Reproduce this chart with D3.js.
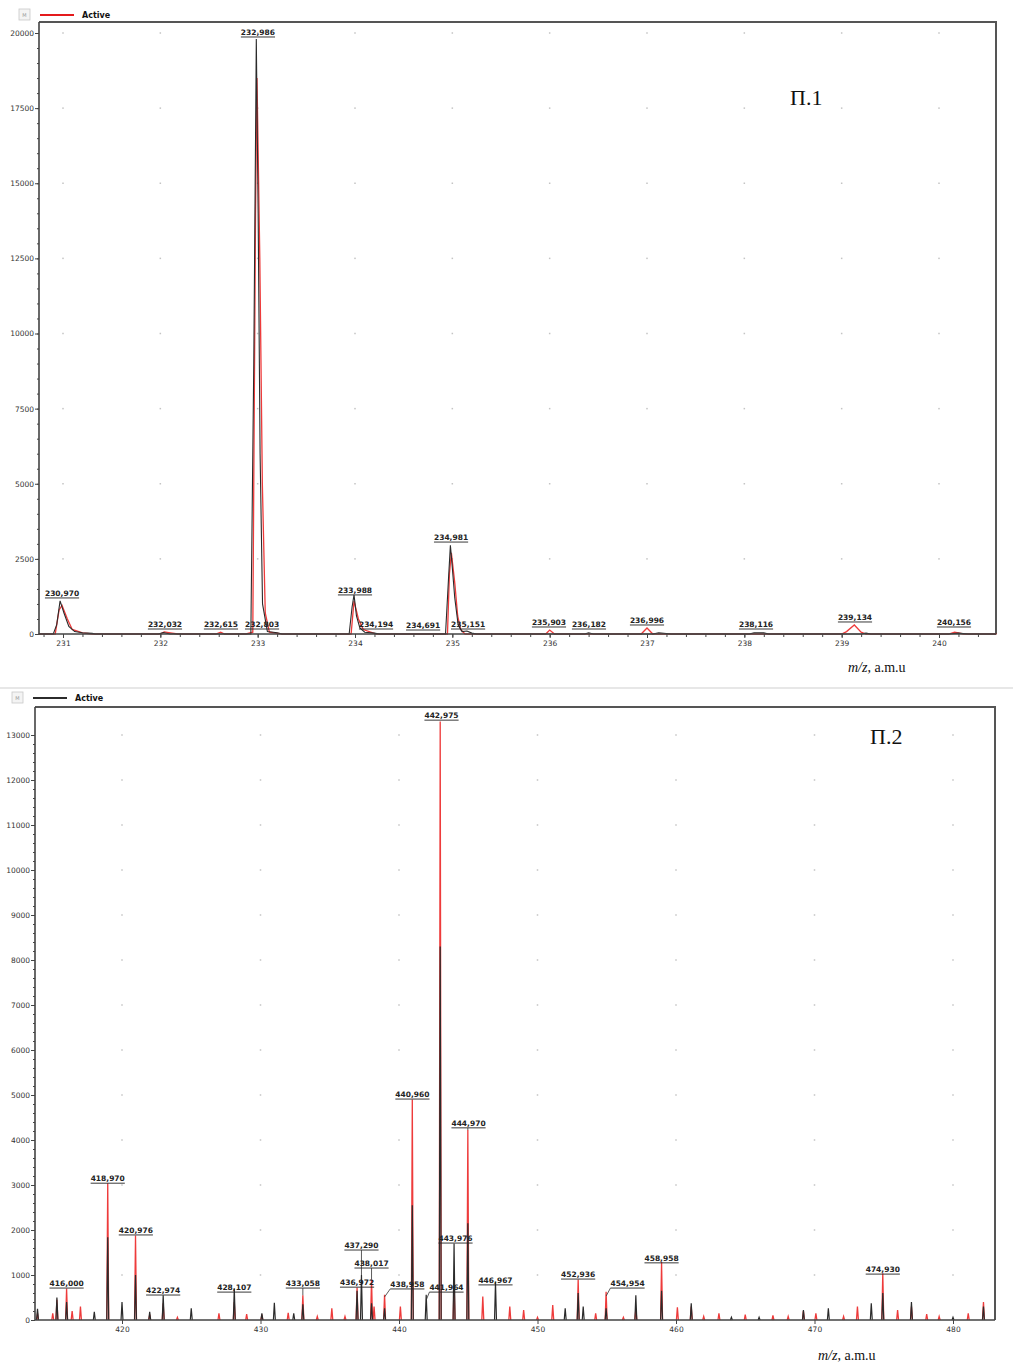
<!DOCTYPE html>
<html>
<head>
<meta charset="utf-8">
<script src="https://cdn.jsdelivr.net/npm/d3@7"></script>
<style>
  body { margin: 0; background: #fff; }
  svg { display: block; }
</style>
</head>
<body>
<div id="chart"></div>
<script>
// ---------- data: panel 1 (profile spectrum, m/z 231-240) ----------
const topXTicks = [231, 232, 233, 234, 235, 236, 237, 238, 239, 240];
const topYTicks = [0, 2500, 5000, 7500, 10000, 12500, 15000, 17500, 20000];

// [m/z, intensity] profile points of the black trace
const topBlack = [
  [230.75, 0], [230.90, 0], [230.935, 300], [230.97, 1100], [231.01, 700], [231.06, 250], [231.12, 80], [231.2, 40], [231.3, 20], [231.33, 0],
  [231.98, 0], [232.03, 50], [232.1, 0],
  [232.93, 0], [232.96, 9000], [232.986, 19800], [233.005, 14000], [233.025, 6000], [233.05, 1000], [233.1, 80], [233.2, 40], [233.25, 0],
  [233.94, 0], [233.97, 900], [233.99, 1300], [234.015, 600], [234.05, 200], [234.1, 60], [234.2, 30], [234.25, 0],
  [234.93, 0], [234.96, 1800], [234.98, 2950], [234.995, 2400], [235.025, 1200], [235.06, 300], [235.1, 80], [235.15, 100], [235.2, 30], [235.25, 0],
  [236.36, 0], [236.4, 40], [236.45, 0],
  [237.06, 0], [237.12, 40], [237.25, 0],
  [238.05, 0], [238.1, 40], [238.2, 40], [238.25, 0],
  [239.2, 0], [239.25, 30], [239.3, 0],
  [240.1, 0], [240.2, 30], [240.3, 0], [240.59, 0]
];
// [m/z, intensity] profile points of the red trace
const topRed = [
  [230.75, 0], [230.92, 0], [230.96, 800], [230.99, 950], [231.045, 500], [231.095, 150], [231.2, 40], [231.3, 0],
  [232.0, 0], [232.04, 70], [232.12, 30], [232.18, 0],
  [232.57, 0], [232.62, 60], [232.66, 0],
  [232.88, 0], [232.95, 60], [232.978, 14000], [232.993, 18500], [233.022, 12500], [233.048, 5000], [233.078, 700], [233.12, 60], [233.25, 0],
  [233.96, 0], [233.99, 1100], [234.035, 500], [234.085, 150], [234.22, 0],
  [234.95, 0], [234.97, 2000], [234.99, 2700], [235.025, 1700], [235.055, 600], [235.085, 150], [235.13, 0],
  [235.96, 0], [236.0, 130], [236.05, 0],
  [236.94, 0], [237.0, 200], [237.06, 0],
  [239.0, 0], [239.05, 80], [239.13, 300], [239.2, 60], [239.25, 0],
  [240.1, 0], [240.16, 60], [240.25, 0], [240.59, 0]
];
// peak annotations: text, label centre m/z, label level
const topLabText = ["230,970", "232,032", "232,615", "232,986", "232,803", "233,988", "234,194", "234,691",
  "234,981", "235,151", "235,903", "236,182", "236,996", "238,116", "239,134", "240,156"];
const topLabMz = [230.99, 232.048, 232.623, 233.003, 233.045, 234.0, 234.216, 234.70,
  234.987, 235.162, 235.993, 236.404, 237.0, 238.12, 239.137, 240.154];
const topLabLevel = [1200, 166, 166, 19867, 166, 1300, 166, 133, 3060, 166, 233, 166, 300, 166, 400, 233];

// ---------- data: panel 2 (centroid spectrum, m/z 414-483) ----------
const botXTicks = [420, 430, 440, 450, 460, 470, 480];
const botYTicks = [0, 1000, 2000, 3000, 4000, 5000, 6000, 7000, 8000, 9000, 10000, 11000, 12000, 13000];

const botRed = [
  [413.9, 150], [415.0, 150], [415.3, 450], [416.0, 700], [416.4, 200], [417.0, 300], [418.97, 3040], [420.976, 1880],
  [422.0, 120], [422.974, 370], [424.0, 60], [427.0, 150], [428.107, 400], [429.0, 130], [430.1, 120], [432.0, 160],
  [433.058, 550], [434.1, 80], [435.15, 260], [436.1, 80], [436.972, 720], [438.017, 900], [438.2, 300], [438.958, 560],
  [440.1, 300], [440.96, 4900], [442.975, 13300], [443.976, 800], [444.97, 4220], [446.05, 520], [448.0, 300], [449.0, 220],
  [450.0, 60], [451.1, 330], [452.936, 900], [454.2, 150], [454.954, 630], [456.2, 60], [457.1, 250], [458.958, 1290],
  [460.1, 280], [461.1, 300], [462.0, 80], [463.1, 150], [465.0, 120], [467.0, 100], [468.1, 80], [469.2, 200],
  [470.1, 150], [472.1, 80], [473.1, 300], [474.93, 1040], [476.0, 220], [477.0, 300], [478.1, 130], [479.0, 80],
  [481.1, 150], [482.2, 400]
];
const botBlack = [
  [413.9, 250], [415.3, 500], [416.0, 400], [418.0, 180], [418.97, 1840], [420.0, 400], [420.976, 1000], [422.0, 180],
  [422.974, 550], [425.0, 260], [428.107, 700], [430.1, 150], [431.0, 380], [432.4, 150], [433.058, 350], [436.972, 650],
  [437.29, 1000], [438.017, 370], [438.958, 260], [440.96, 2550], [441.964, 560], [442.975, 8300], [443.976, 1700],
  [444.97, 2150], [446.967, 850], [452.0, 260], [452.936, 600], [453.3, 300], [454.954, 260], [457.1, 550], [458.958, 650],
  [461.1, 370], [464.0, 60], [466.0, 60], [469.2, 220], [471.0, 260], [474.1, 370], [474.93, 600], [477.0, 400],
  [480.0, 60], [482.2, 300]
];
const botLabText = ["416,000", "418,970", "420,976", "422,974", "428,107", "433,058", "436,972", "437,290", "438,017",
  "438,958", "440,960", "441,964", "442,975", "443,976", "444,970", "446,967", "452,936", "454,954", "458,958", "474,930"];
const botLabMz = [416.0, 418.97, 421.0, 422.974, 428.107, 433.058, 436.972, 437.29, 438.017,
  440.6, 440.97, 443.43, 443.07, 444.08, 445.02, 446.967, 452.936, 456.5, 458.958, 474.93];
const botLabLevel = [710, 3040, 1890, 555, 620, 710, 730, 1555, 1155, 690, 4910, 620, 13330, 1710, 4270, 780, 910, 710, 1270, 1020];
const botLabPeak = [416.0, 418.97, 420.976, 422.974, 428.107, 433.058, 436.972, 437.29, 438.017,
  438.958, 440.96, 441.964, 442.975, 443.976, 444.97, 446.967, 452.936, 454.954, 458.958, 474.93];

// ---------- drawing ----------
const svg = d3.select("#chart")
    .append("svg")
    .attr("width", 1013)
    .attr("height", 1364);

const tickFont = "DejaVu Sans, Verdana, sans-serif";
const serif = "Liberation Serif, Times New Roman, serif";
const red = "#ee3b3b", black = "#2b2b2b";

function drawPanel(p) {
    const g = svg.append("g");
    const x = p.x, y = p.y;

    // grid dots
    p.xTicks.forEach(tx => p.yTicks.filter(v => v > 0).forEach(ty => {
        g.append("rect")
            .attr("x", x(tx) - 0.75).attr("y", y(ty) - 0.75)
            .attr("width", 1.5).attr("height", 1.5)
            .attr("fill", "#c4c4c4");
    }));

    // frame (top and right)
    g.append("path")
        .attr("d", `M${p.left},${p.top}H${p.right}V${p.bottom}`)
        .attr("fill", "none").attr("stroke", "#555").attr("stroke-width", 2);

    // traces: red under black
    if (p.profile) {
        const line = d3.line().x(d => x(d[0])).y(d => y(d[1]));
        g.append("path").datum(p.red).attr("d", line)
            .attr("fill", "none").attr("stroke", red).attr("stroke-width", 1.3);
        g.append("path").datum(p.black).attr("d", line)
            .attr("fill", "none").attr("stroke", black).attr("stroke-width", 1.1);
    } else {
        const w = p.peakWidth;
        const tri = d => `M${x(d[0] - w)},${y(0)}L${x(d[0])},${y(d[1])}L${x(d[0] + w)},${y(0)}`;
        g.selectAll(null).data(p.red).enter().append("path")
            .attr("d", tri).attr("fill", "none").attr("stroke", red).attr("stroke-width", 1.3);
        g.selectAll(null).data(p.black).enter().append("path")
            .attr("d", tri).attr("fill", "none").attr("stroke", black).attr("stroke-width", 1.2);
    }

    // axes
    const yAxis = d3.axisLeft(y).tickValues(p.yTicks).tickSize(4).tickPadding(1).tickFormat(d3.format("d"));
    const yMinor = d3.axisLeft(y).tickValues(d3.range(0, p.yTicks[p.yTicks.length - 1] + 1, p.yMinorStep)).tickSize(2).tickFormat("");
    const xAxis = d3.axisBottom(x).tickValues(p.xTicks).tickSize(4).tickPadding(3).tickFormat(d3.format("d"));

    g.append("g").attr("transform", `translate(${p.left},0)`).call(yMinor)
        .call(a => a.select(".domain").remove())
        .selectAll("line").attr("stroke", "#444");
    const ya = g.append("g").attr("transform", `translate(${p.left},0)`).call(yAxis);
    ya.select(".domain").remove();
    ya.selectAll("line").attr("stroke", "#444");
    ya.selectAll("text").attr("font-family", tickFont).attr("font-size", 7.5).attr("fill", "#333");

    if (p.xMinorStep) {
        const xMinor = d3.axisBottom(x)
            .tickValues(d3.range(Math.ceil(x.invert(p.left) / p.xMinorStep) * p.xMinorStep, x.invert(p.right), p.xMinorStep))
            .tickSize(3).tickFormat("");
        g.append("g").attr("transform", `translate(0,${p.bottom})`).call(xMinor)
            .call(a => a.select(".domain").remove())
            .selectAll("line").attr("stroke", "#444");
    }
    const xa = g.append("g").attr("transform", `translate(0,${p.bottom})`).call(xAxis);
    xa.select(".domain").remove();
    xa.selectAll("line").attr("stroke", "#444");
    xa.selectAll("text").attr("font-family", tickFont).attr("font-size", 7.5).attr("fill", "#333");

    // axis lines
    g.append("path")
        .attr("d", `M${p.left},${p.top}V${p.bottom}H${p.right}`)
        .attr("fill", "none").attr("stroke", "#444").attr("stroke-width", 1.6);

    // peak labels
    p.labText.forEach((t, i) => {
        const lx = x(p.labMz[i]);
        const ly = y(p.labLevel[i]);
        const txt = g.append("text")
            .attr("x", lx).attr("y", ly - 2)
            .attr("text-anchor", "middle")
            .attr("font-family", tickFont).attr("font-size", 7.5).attr("font-weight", "bold")
            .attr("fill", "#222")
            .text(t);
        const bw = txt.node().getComputedTextLength();
        g.append("line")
            .attr("x1", lx - bw / 2).attr("x2", lx + bw / 2)
            .attr("y1", ly).attr("y2", ly)
            .attr("stroke", "#222").attr("stroke-width", 0.9);
        if (p.labPeak) {
            const pm = p.labPeak[i];
            const hit = p.red.concat(p.black).filter(d => Math.abs(d[0] - pm) < 0.01);
            const ph = d3.max(hit, d => d[1]) || 0;
            const px = x(pm), py = y(ph);
            if (Math.abs(px - lx) > 5) {
                g.append("path")
                    .attr("d", `M${lx - bw / 2},${ly}L${px},${Math.max(py, ly + 8)}`)
                    .attr("fill", "none").attr("stroke", "#333").attr("stroke-width", 0.8);
            } else if (py - ly > 2) {
                g.append("line").attr("x1", px).attr("x2", px).attr("y1", ly).attr("y2", py)
                    .attr("stroke", "#333").attr("stroke-width", 0.8);
            }
        }
    });

    // legend
    g.append("rect")
        .attr("x", p.legX).attr("y", p.legY - 6).attr("width", 11).attr("height", 11)
        .attr("fill", "#f4f4f4").attr("stroke", "#c8c8c8").attr("stroke-width", 0.8);
    g.append("text")
        .attr("x", p.legX + 5.5).attr("y", p.legY + 2)
        .attr("text-anchor", "middle")
        .attr("font-family", tickFont).attr("font-size", 5).attr("fill", "#999")
        .text("M");
    g.append("line")
        .attr("x1", p.legX + 21).attr("x2", p.legX + 55)
        .attr("y1", p.legY).attr("y2", p.legY)
        .attr("stroke", p.legColor).attr("stroke-width", 2.2);
    g.append("text")
        .attr("x", p.legX + 63).attr("y", p.legY + 3)
        .attr("font-family", tickFont).attr("font-size", 8).attr("font-weight", "bold")
        .attr("fill", "#111")
        .text("Active");

    // panel tag
    g.append("text")
        .attr("x", p.tagX).attr("y", p.tagY)
        .attr("font-family", serif).attr("font-size", 22).attr("fill", "#111")
        .text(p.tag);

    // axis title
    const at = g.append("text")
        .attr("x", p.titleX).attr("y", p.titleY)
        .attr("font-family", serif).attr("font-size", 14).attr("fill", "#111");
    at.append("tspan").attr("font-style", "italic").text("m/z");
    at.append("tspan").text(",  a.m.u");
}

drawPanel({
    x: d3.scaleLinear().domain([231, 240]).range([63, 939]),
    y: d3.scaleLinear().domain([0, 20000]).range([634, 33]),
    left: 39, right: 996, top: 22, bottom: 634,
    xTicks: topXTicks, yTicks: topYTicks, yMinorStep: 500, xMinorStep: 0.2,
    profile: true, black: topBlack, red: topRed,
    labText: topLabText, labMz: topLabMz, labLevel: topLabLevel,
    legX: 19, legY: 15, legColor: "#e41a1c",
    tag: "П.1", tagX: 790, tagY: 105,
    titleX: 848, titleY: 672
});

svg.append("line")
    .attr("x1", 0).attr("x2", 1013).attr("y1", 688).attr("y2", 688)
    .attr("stroke", "#cfcfcf").attr("stroke-width", 1);

drawPanel({
    x: d3.scaleLinear().domain([420, 480]).range([122, 953]),
    y: d3.scaleLinear().domain([0, 13000]).range([1320, 735]),
    left: 35, right: 995, top: 707, bottom: 1320,
    xTicks: botXTicks, yTicks: botYTicks, yMinorStep: 200, xMinorStep: null,
    profile: false, black: botBlack, red: botRed, peakWidth: 0.07,
    labText: botLabText, labMz: botLabMz, labLevel: botLabLevel, labPeak: botLabPeak,
    legX: 12, legY: 698, legColor: "#2b2b2b",
    tag: "П.2", tagX: 870, tagY: 744,
    titleX: 818, titleY: 1360
});
</script>
</body>
</html>
